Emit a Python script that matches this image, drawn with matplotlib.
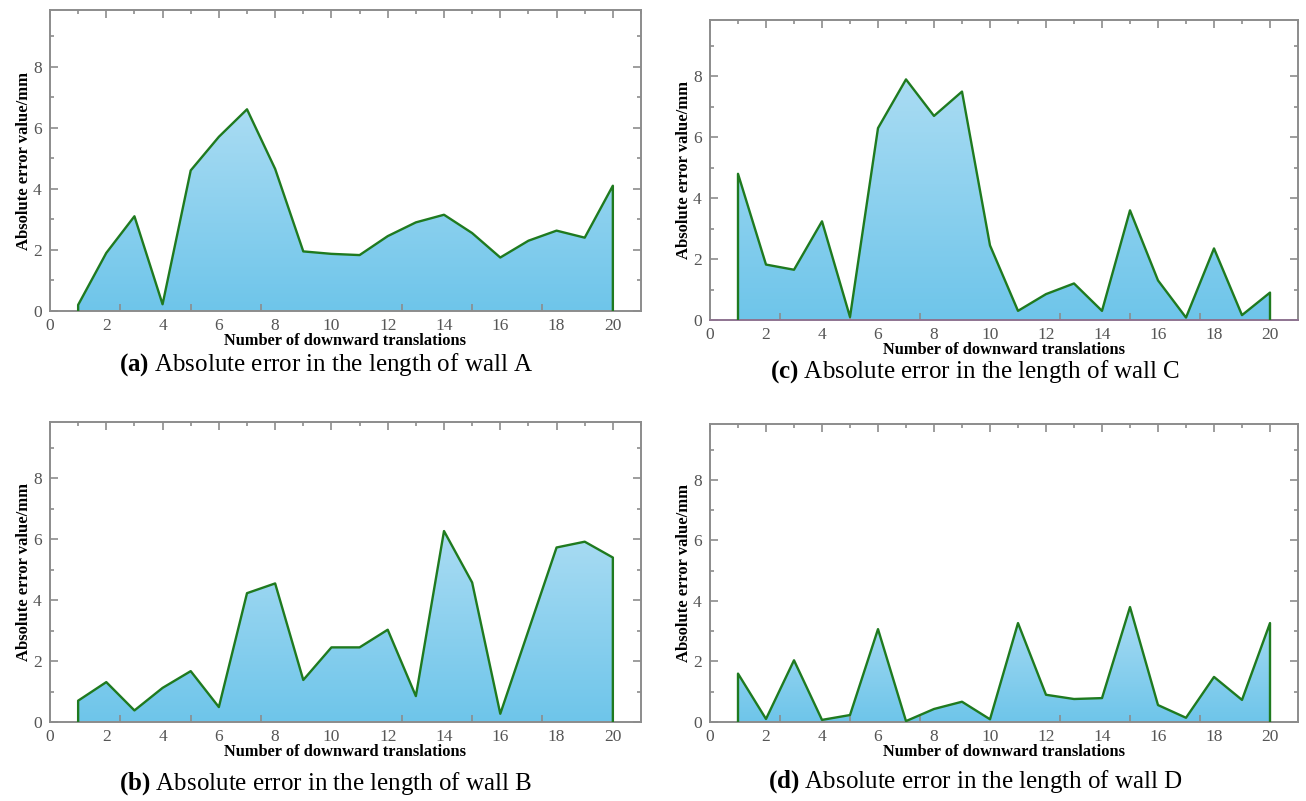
import numpy as np
import matplotlib
matplotlib.use("Agg")
import matplotlib.pyplot as plt
from matplotlib.colors import LinearSegmentedColormap
from matplotlib.patches import Polygon
from matplotlib.ticker import MultipleLocator

plt.rcParams['font.family'] = ['Liberation Serif', 'DejaVu Serif']
plt.rcParams['mathtext.fontset'] = 'custom'
plt.rcParams['mathtext.rm'] = 'Liberation Serif'
plt.rcParams['mathtext.bf'] = 'Liberation Serif:bold'

translations = list(range(1, 21))
wall_a = [0.2, 1.9, 3.1, 0.22, 4.6, 5.7, 6.6, 4.65, 1.95, 1.87, 1.83, 2.45, 2.9, 3.15, 2.55, 1.75, 2.3, 2.63, 2.4, 4.1]
wall_b = [0.7, 1.31, 0.38, 1.12, 1.67, 0.49, 4.23, 4.55, 1.38, 2.45, 2.45, 3.03, 0.85, 6.27, 4.58, 0.27, 3.0, 5.73, 5.92, 5.4]
wall_c = [4.8, 1.82, 1.65, 3.24, 0.1, 6.3, 7.9, 6.7, 7.5, 2.45, 0.3, 0.85, 1.2, 0.3, 3.6, 1.3, 0.08, 2.35, 0.16, 0.9]
wall_d = [1.6, 0.1, 2.04, 0.07, 0.23, 3.07, 0.03, 0.43, 0.67, 0.09, 3.27, 0.9, 0.76, 0.79, 3.8, 0.56, 0.14, 1.49, 0.73, 3.27]

xtick_vals = list(range(0, 21, 2))
ytick_vals = [0, 2, 4, 6, 8]
xlabel = "Number of downward translations"
ylabel = "Absolute error value/mm"
captions = [("(a)", "Absolute error in the length of wall A"),
            ("(b)", "Absolute error in the length of wall B"),
            ("(c)", "Absolute error in the length of wall C"),
            ("(d)", "Absolute error in the length of wall D")]

W, H = 1306, 801
fig = plt.figure(figsize=(W / 100, H / 100), dpi=100)

def rect(l, t, r, b):
    return [l / W, 1 - b / H, (r - l) / W, (b - t) / H]

cmap = LinearSegmentedColormap.from_list("g", ["#6ec5ea", "#aadcf3"])
spine_c = "#8c8c8c"

def panel(box, data, bottom_spine=spine_c):
    ax = fig.add_axes(rect(*box))
    x = translations
    ymax = max(data)
    verts = [(x[0], 0)] + list(zip(x, data)) + [(x[-1], 0)]
    poly = Polygon(verts, closed=True, facecolor="none", edgecolor="none")
    ax.add_patch(poly)
    grad = np.linspace(0, 1, 256).reshape(-1, 1)
    im = ax.imshow(grad, extent=[x[0], x[-1], 0, ymax], origin="lower",
                   cmap=cmap, aspect="auto", zorder=1)
    im.set_clip_path(poly)
    ax.plot([x[0]] + x + [x[-1]], [0] + data + [0], color="#1f7a1f", lw=1.7, zorder=3)
    ax.set_xlim(0, 21)
    ax.set_ylim(0, 9.85)
    for s in ax.spines.values():
        s.set_color(spine_c)
        s.set_linewidth(1.4)
    ax.spines['bottom'].set_color(bottom_spine)
    ax.set_xticks(xtick_vals)
    ax.xaxis.set_minor_locator(MultipleLocator(2.5))
    ax.tick_params(axis='x', which='major', length=0, pad=5, labelsize=12.5, labelcolor="#555555")
    ax.tick_params(axis='x', which='minor', direction='in', length=5, width=1.2, color=spine_c, top=False, bottom=True)
    ax.set_yticks(ytick_vals)
    ax.yaxis.set_minor_locator(MultipleLocator(1))
    ax.tick_params(axis='y', which='major', direction='in', length=6, width=1.2, color=spine_c,
                   left=True, right=True, labelsize=12.5, labelcolor="#555555", pad=6)
    ax.tick_params(axis='y', which='minor', direction='in', length=3, width=1.2, color=spine_c,
                   left=True, right=True)
    sec = ax.secondary_xaxis('top')
    sec.set_xticks(xtick_vals)
    sec.xaxis.set_minor_locator(MultipleLocator(1))
    sec.tick_params(which='major', direction='in', length=6, width=1.2, color=spine_c, labeltop=False)
    sec.tick_params(which='minor', direction='in', length=3, width=1.2, color=spine_c)
    sec.spines['top'].set_visible(False)
    ax.set_xlabel(xlabel, fontsize=11.8, fontweight='bold', labelpad=-1)
    ax.set_ylabel(ylabel, fontsize=12, fontweight='bold', labelpad=1)
    return ax

panel((50, 10, 641, 311), wall_a)
panel((50, 422, 641, 722), wall_b)
panel((710, 20, 1298, 320), wall_c, bottom_spine="#8e7390")
panel((710, 424, 1298, 722), wall_d)

cap_pos = [(326, 365), (326, 784), (975, 372), (975, 782)]
for (tag, txt), (cx, cy) in zip(captions, cap_pos):
    fig.text(cx / W, 1 - cy / H, r"$\mathbf{" + tag + "}$ " + txt,
             ha="center", va="center", fontsize=18)

fig.savefig("out.png", dpi=100)
